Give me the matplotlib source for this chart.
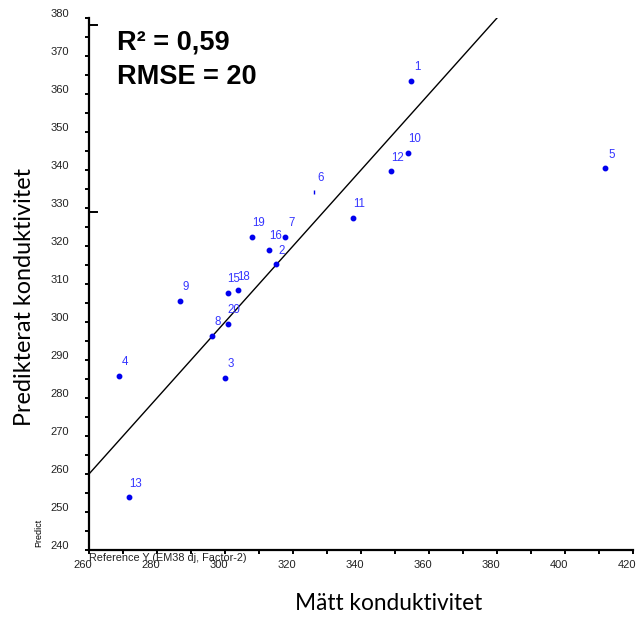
import numpy as np
import matplotlib.pyplot as plt
from matplotlib.transforms import ScaledTranslation

# Sample numbers, measured (x) and predicted (y) conductivity
sample_ids = ['1', '2', '3', '4', '5', '6', '7', '8', '9', '10',
              '11', '12', '13', '15', '16', '18', '19', '20']
measured = [354.7, 314.9, 299.9, 268.8, 411.9, 326.3, 317.7, 296.1, 286.7, 353.9,
            337.7, 348.8, 271.8, 300.8, 313.0, 303.7, 307.9, 300.8]
predicted = [363.4, 315.2, 285.3, 285.8, 340.4, 334.3, 322.5, 296.4, 305.6, 344.6,
             327.5, 339.7, 253.9, 307.6, 319.0, 308.3, 322.5, 299.6]

one_to_one = [260, 420]
x_ticks = [260, 280, 300, 320, 340, 360, 380, 400, 420]
y_ticks = [240, 250, 260, 270, 280, 290, 300, 310, 320, 330, 340, 350, 360, 370, 380]

fig = plt.figure(figsize=(6.38, 6.2), dpi=100)
ax = fig.add_axes([89 / 638, 70 / 620, 544 / 638, 532 / 620])

# 1:1 line
ax.plot(one_to_one, one_to_one, color='black', lw=1.0, zorder=2)

# points (sample 6 is only visible as a tiny mark in the original)
pt_color = '#0000ee'
lab_color = '#3535ff'
for sid, x, y in zip(sample_ids, measured, predicted):
    if sid == '6':
        ax.plot(x, y, marker='|', ms=3, mew=1, color=pt_color, zorder=3)
    else:
        ax.plot(x, y, 'o', ms=3.2, color=pt_color, zorder=3)
    ax.annotate(sid, (x, y), xytext=(4.5, 5.5), textcoords='offset points',
                ha='center', va='bottom', fontsize=8.3, color=lab_color,
                family='Liberation Sans')

ax.set_xlim(260, 420)
ax.set_ylim(240, 380)
ax.set_xticks(x_ticks)
ax.set_xticks(np.arange(270, 420, 20), minor=True)
ax.set_yticks(y_ticks)
ax.set_yticks(np.arange(245, 380, 10), minor=True)

for s in ['top', 'right']:
    ax.spines[s].set_visible(False)
for s in ['left', 'bottom']:
    ax.spines[s].set_linewidth(1.6)

ax.tick_params(which='both', direction='out', length=3, width=1.4, colors='black')
ax.tick_params(axis='y', which='major', pad=11.5)
ax.tick_params(axis='x', which='major', pad=4)
for lab in ax.get_xticklabels():
    lab.set_fontsize(8)
    lab.set_family('Liberation Sans')
    lab.set_color('#222222')
    lab.set_transform(lab.get_transform() + ScaledTranslation(-0.06, 0, fig.dpi_scale_trans))
for lab in ax.get_yticklabels():
    lab.set_fontsize(8)
    lab.set_family('Liberation Sans')
    lab.set_color('#222222')
    lab.set_transform(lab.get_transform() + ScaledTranslation(0, 0.05, fig.dpi_scale_trans))

# little stubs left over from the pasted axis
for py in [25, 212]:
    fig.add_artist(plt.Line2D([89 / 638, 97 / 638], [1 - py / 620, 1 - py / 620],
                              color='black', lw=1.4))

# statistics
fig.text(117 / 638, 1 - 43 / 620, 'R² = 0,59', fontsize=19.5, fontweight='bold',
         family='Liberation Sans', va='center', ha='left')
fig.text(117 / 638, 1 - 77 / 620, 'RMSE = 20', fontsize=19.5, fontweight='bold',
         family='Liberation Sans', va='center', ha='left')

# axis titles
fig.text(25 / 638, 1 - 297 / 620, 'Predikterat konduktivitet', rotation=90,
         fontsize=16.8, family='Lato', va='center', ha='center')
fig.text(389 / 638, 1 - 604 / 620, 'Mätt konduktivitet',
         fontsize=16.3, family='Lato', va='center', ha='center')

# small original software labels
fig.text(39 / 638, 1 - 533 / 620, 'Predict', rotation=90, fontsize=6.5,
         family='Liberation Sans', va='center', ha='center')
fig.text(89 / 638, 1 - 558 / 620, 'Reference Y (EM38 dj, Factor-2)', fontsize=7.8,
         family='Liberation Sans', va='center', ha='left', color='#222222')

fig.savefig('out.png', dpi=100)
